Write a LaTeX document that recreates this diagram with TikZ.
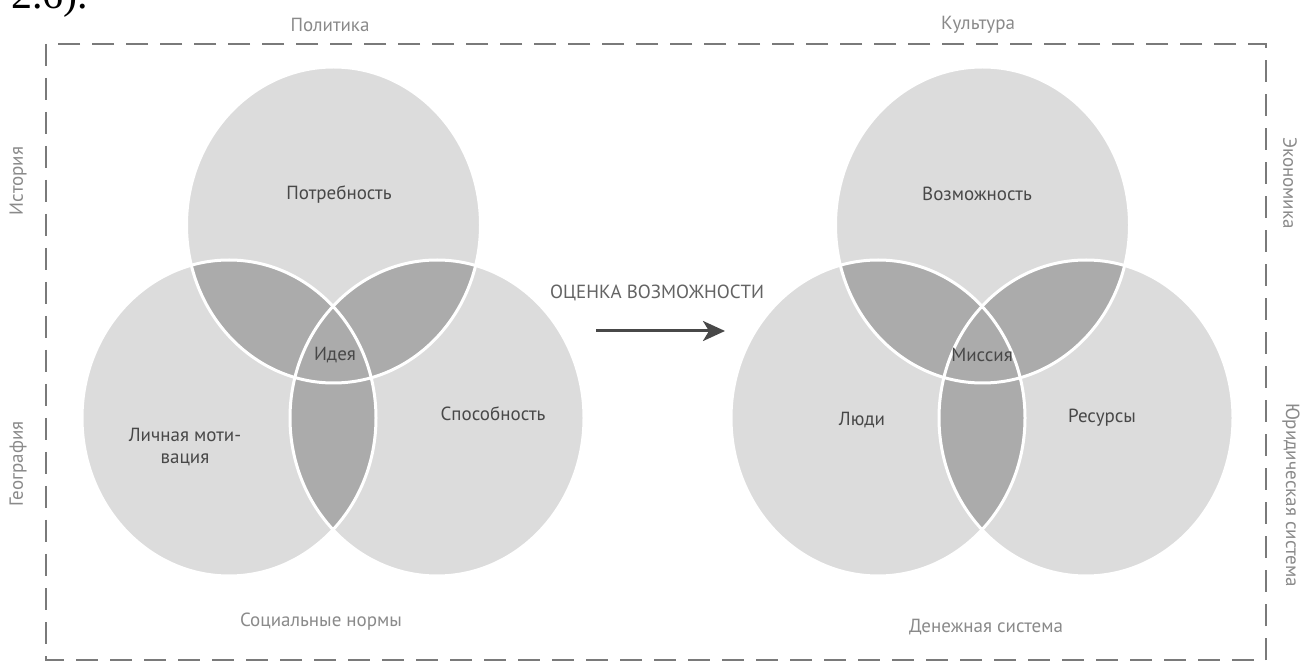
\documentclass[tikz,border=0pt]{standalone}
\usepackage{fontspec}
\setmainfont{PT Sans}
\newfontfamily\chapfont{Liberation Serif}
\usetikzlibrary{arrows.meta}
\definecolor{lightdisc}{HTML}{DCDCDC}
\definecolor{darklens}{HTML}{ABABAB}
\definecolor{inktext}{HTML}{484848}
\definecolor{faintext}{HTML}{8A8A8A}
\definecolor{framegray}{HTML}{7A7A7A}
\tikzstyle{disc}=[fill=lightdisc]
\tikzstyle{lens}=[fill=darklens]
\tikzstyle{rim}=[draw=white,line width=1.5pt]
\tikzstyle{inlabel}=[text=inktext,font=\fontsize{9.5}{11}\selectfont,align=center]
\tikzstyle{outlabel}=[text=faintext,font=\fontsize{9.5}{11}\selectfont]
\tikzstyle{frame}=[draw=framegray,line width=1pt,dash pattern=on 11pt off 6pt]
\tikzstyle{assess}=[line width=1.5pt,draw=inktext,-{Stealth[length=11pt,width=10pt,inset=3pt]}]

\begin{document}
\begin{tikzpicture}[x=0.5pt,y=-0.5pt]
  \useasboundingbox [fill=white] (0,0) rectangle (1307,662);
  \node (chap) [anchor=base west,inner sep=0pt,font=\chapfont\fontsize{21}{21}\selectfont] at (11,9) {2.6).};
  \draw [frame] (46,44) rectangle (1266,660);
  % the two Venn triples
  \foreach \dx in {0,649} {
    \begin{scope}[shift={(\dx,0)}]
      \def\ctop{(333.5,225) ellipse [x radius=147, y radius=158]}
      \def\cleft{(229,418) ellipse [x radius=147, y radius=158]}
      \def\cright{(437,418) ellipse [x radius=147, y radius=158]}
      \fill [disc] \ctop;
      \fill [disc] \cleft;
      \fill [disc] \cright;
      \begin{scope}
        \clip \ctop;
        \fill [lens] \cleft;
        \fill [lens] \cright;
      \end{scope}
      \begin{scope}
        \clip \cleft;
        \fill [lens] \cright;
      \end{scope}
      \draw [rim] \ctop;
      \draw [rim] \cleft;
      \draw [rim] \cright;
    \end{scope}
  }
  \node (need) [inlabel] at (339,195) {Потребность};
  \node (idea) [inlabel] at (335,355) {Идея};
  \node (motive) [inlabel] at (185,447) {Личная моти-\\вация};
  \node (skill) [inlabel] at (493,414) {Способность};
  \node (chance) [inlabel] at (977,194) {Возможность};
  \node (mission) [inlabel] at (982,355) {Миссия};
  \node (people) [inlabel] at (862,420) {Люди};
  \node (means) [inlabel] at (1102,418) {Ресурсы};
  % surroundings
  \node (politics) [outlabel] at (330,25) {Политика};
  \node (culture) [outlabel] at (978,25) {Культура};
  \node (history) [outlabel,rotate=90] at (18,181) {История};
  \node (geography) [outlabel,rotate=90] at (18,464) {География};
  \node (economy) [outlabel,rotate=-90] at (1290,183) {Экономика};
  \node (law) [outlabel,rotate=-90] at (1291,495) {Юридическая система};
  \node (norms) [outlabel] at (321,622) {Социальные нормы};
  \node (money) [outlabel] at (986,627) {Денежная система};
  % assessment arrow
  \node (assesstext) [text=inktext!85,font=\fontsize{9.5}{11}\selectfont] at (657,293) {ОЦЕНКА ВОЗМОЖНОСТИ};
  \coordinate (arrowfrom) at (596,331);
  \coordinate (arrowto) at (725,331);
  \draw [assess] (arrowfrom) -- (arrowto);
\end{tikzpicture}
\end{document}
